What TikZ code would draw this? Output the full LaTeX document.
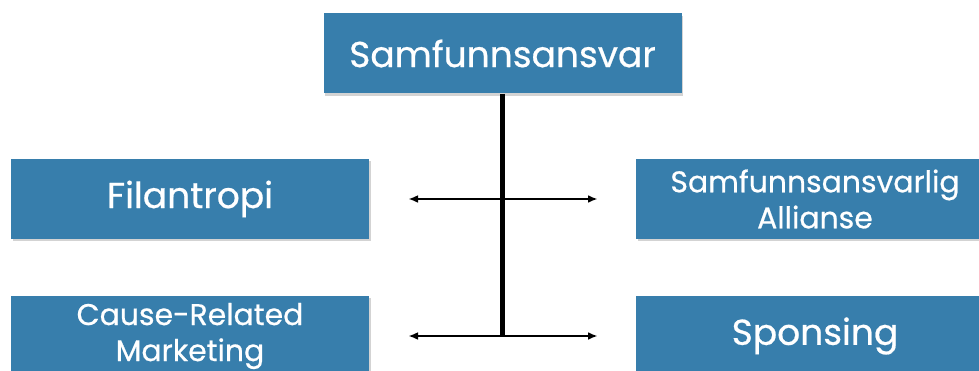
\documentclass[tikz,border=0pt]{standalone}
\usepackage{fontspec}
\setmainfont{Poppins}[FakeBold=0.6]
\usetikzlibrary{arrows.meta,shadows}
\definecolor{BlaaBoks}{RGB}{55,126,172}

\begin{document}
\begin{tikzpicture}[x=0.02cm,y=-0.02cm,>={Latex[length=5.5pt,width=4.5pt]},
  boks/.style={fill=BlaaBoks,text=white,minimum width=358*0.02cm,minimum height=80*0.02cm,
    inner sep=0pt,align=center,font=\fontsize{20.5}{22}\selectfont,
    drop shadow={shadow xshift=1pt,shadow yshift=-1.2pt,opacity=0.35}},
  liten/.style={font=\fontsize{17}{20.5}\selectfont},
  pil/.style={<->,line width=1.1pt,shorten <=0.78cm,shorten >=0.76cm}]
  \useasboundingbox (0,0) rectangle (979,371);
  \node[boks] (sa) at (502.5,53.5) {Samfunnsansvar};
  \node[boks] (fil) at (190,199) {Filantropi};
  \node[boks,liten] (all) at (815,199) {Samfunnsansvarlig\\Allianse};
  \node[boks,liten] (crm) at (190,336) {Cause-Related\\Marketing};
  \node[boks] (spo) at (815,336) {Sponsing};
  \coordinate (bunn) at (sa.south |- crm.east);
  \draw[line width=2.4pt] (sa.south) -- (bunn);
  \draw[pil] (fil.east) -- (all.west);
  \draw[pil] (crm.east) -- (spo.west);
\end{tikzpicture}
\end{document}
